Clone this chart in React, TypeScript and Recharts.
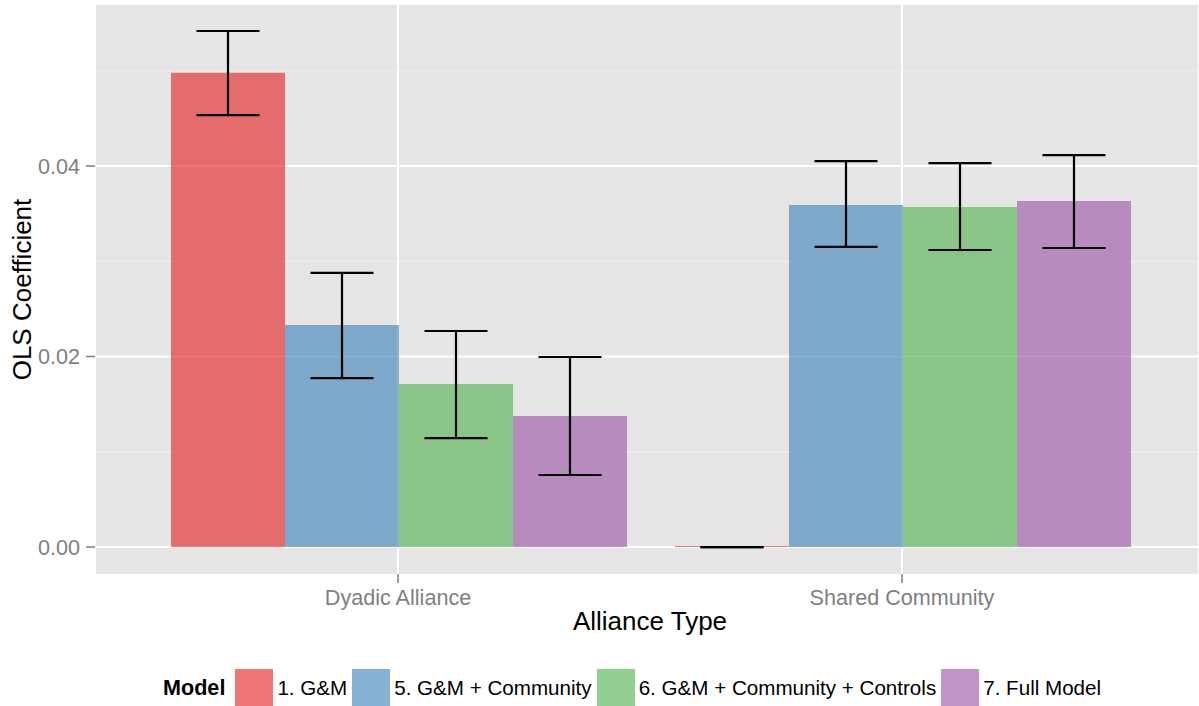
import React from "react";
import { BarChart, Bar, XAxis, YAxis, CartesianGrid, ErrorBar, Legend } from "recharts";

const categories = ["Dyadic Alliance", "Shared Community"];
const seriesNames = ["1. G&M", "5. G&M + Community", "6. G&M + Community + Controls", "7. Full Model"];
const seriesColors = ["#E41A1C", "#377EB8", "#4DAF4A", "#984EA3"];

// estimates per category (Dyadic, Shared)
const m1Est = [0.0498, 0.0];
const m1Low = [0.04535, 0.0];
const m1High = [0.05417, 0.0];

const m5Est = [0.02331, 0.0359];
const m5Low = [0.01774, 0.0315];
const m5High = [0.02877, 0.04052];

const m6Est = [0.01711, 0.0357];
const m6Low = [0.01144, 0.03118];
const m6High = [0.02268, 0.04031];

const m7Est = [0.01375, 0.03633];
const m7Low = [0.00756, 0.03139];
const m7High = [0.01995, 0.04115];

const yTicks = [0, 0.02, 0.04];
const yMinor = [0.01, 0.03, 0.05];

const est = [m1Est, m5Est, m6Est, m7Est];
const lows = [m1Low, m5Low, m6Low, m7Low];
const highs = [m1High, m5High, m6High, m7High];

const data = categories.map((cat, i) => {
  const row: any = { cat };
  est.forEach((arr, s) => {
    row["s" + s] = arr[i];
    row["e" + s] = [arr[i] - lows[s][i], highs[s][i] - arr[i]];
  });
  return row;
});

const FONT = '"Liberation Sans", Arial, Helvetica, sans-serif';
const PAD_L = 51;
const PAD_R = 45;
const SMALL = 21.6;
const LEG = 20.6;
const TITLE = 26;

const renderLegend = () => (
  <div
    style={{
      width: 1199,
      height: 60,
      boxSizing: "border-box",
      paddingLeft: 163,
      display: "flex",
      alignItems: "flex-end",
      fontFamily: FONT,
      fontSize: LEG,
      color: "#000",
    }}
  >
    <div style={{ height: 37, display: "flex", alignItems: "center", fontWeight: "bold", fontSize: 21.6, marginRight: 10 }}>Model</div>
    {seriesNames.map((n, i) => (
      <div key={n} style={{ height: 37, display: "flex", alignItems: "center" }}>
        <div style={{ width: 38, height: 37, background: seriesColors[i], opacity: 0.6 }} />
        <span style={{ marginLeft: 4, marginRight: 5, whiteSpace: "nowrap" }}>{n}</span>
      </div>
    ))}
  </div>
);

const renderYLabel = (props: any) => {
  const vb = props.viewBox || { x: 0, y: 5, width: 95, height: 569 };
  const cx = vb.x + 22;
  const cy = vb.y + vb.height / 2;
  return (
    <text
      x={cx}
      y={cy}
      transform={`rotate(-90, ${cx}, ${cy})`}
      textAnchor="middle"
      dominantBaseline="central"
      fontFamily={FONT}
      fontSize={TITLE}
      fill="#000"
    >
      OLS Coefficient
    </text>
  );
};

const renderXLabel = (props: any) => {
  const vb = props.viewBox || { x: 95, y: 574, width: 1104, height: 72 };
  const cx = vb.x + PAD_L + (vb.width - PAD_L - PAD_R) / 2;
  return (
    <text x={cx} y={vb.y + 56} textAnchor="middle" fontFamily={FONT} fontSize={TITLE} fill="#000">
      Alliance Type
    </text>
  );
};

export default function App() {
  return (
    <div style={{ position: "absolute", left: 0, top: 0, width: 1199, height: 706, background: "#fff" }}>
      <BarChart
        width={1199}
        height={706}
        data={data}
        margin={{ top: 5, right: 0, left: 0, bottom: 0 }}
        barCategoryGap={25}
        barGap={0}
      >
        <CartesianGrid fill="#E5E5E5" stroke="#F2F2F2" strokeWidth={1} horizontalValues={yMinor} vertical={false} />
        <CartesianGrid stroke="#FFFFFF" strokeWidth={2} horizontalValues={yTicks} />
        <XAxis
          dataKey="cat"
          height={72}
          padding={{ left: PAD_L, right: PAD_R }}
          axisLine={false}
          tickSize={9}
          tickMargin={7}
          tickLine={{ stroke: "#7F7F7F", strokeWidth: 1.5 }}
          tick={{ fill: "#7F7F7F", fontSize: SMALL, fontFamily: FONT }}
          label={renderXLabel}
        />
        <YAxis
          width={95}
          domain={[-0.00283, 0.0569]}
          allowDataOverflow
          ticks={yTicks}
          tickFormatter={(v: number) => v.toFixed(2)}
          axisLine={false}
          tickSize={9}
          tickMargin={6}
          tickLine={{ stroke: "#7F7F7F", strokeWidth: 1.5 }}
          tick={{ fill: "#7F7F7F", fontSize: SMALL, fontFamily: FONT }}
          label={renderYLabel}
        />
        <Legend verticalAlign="bottom" content={renderLegend} />
        {seriesNames.map((n, s) => (
          <Bar
            key={n}
            dataKey={"s" + s}
            name={n}
            fill={seriesColors[s]}
            fillOpacity={0.6}
            minPointSize={s === 0 ? 1 : 0}
            isAnimationActive={false}
          >
            <ErrorBar dataKey={"e" + s} width={31.5} stroke="#000" strokeWidth={2.2} isAnimationActive={false} />
          </Bar>
        ))}
      </BarChart>
    </div>
  );
}
